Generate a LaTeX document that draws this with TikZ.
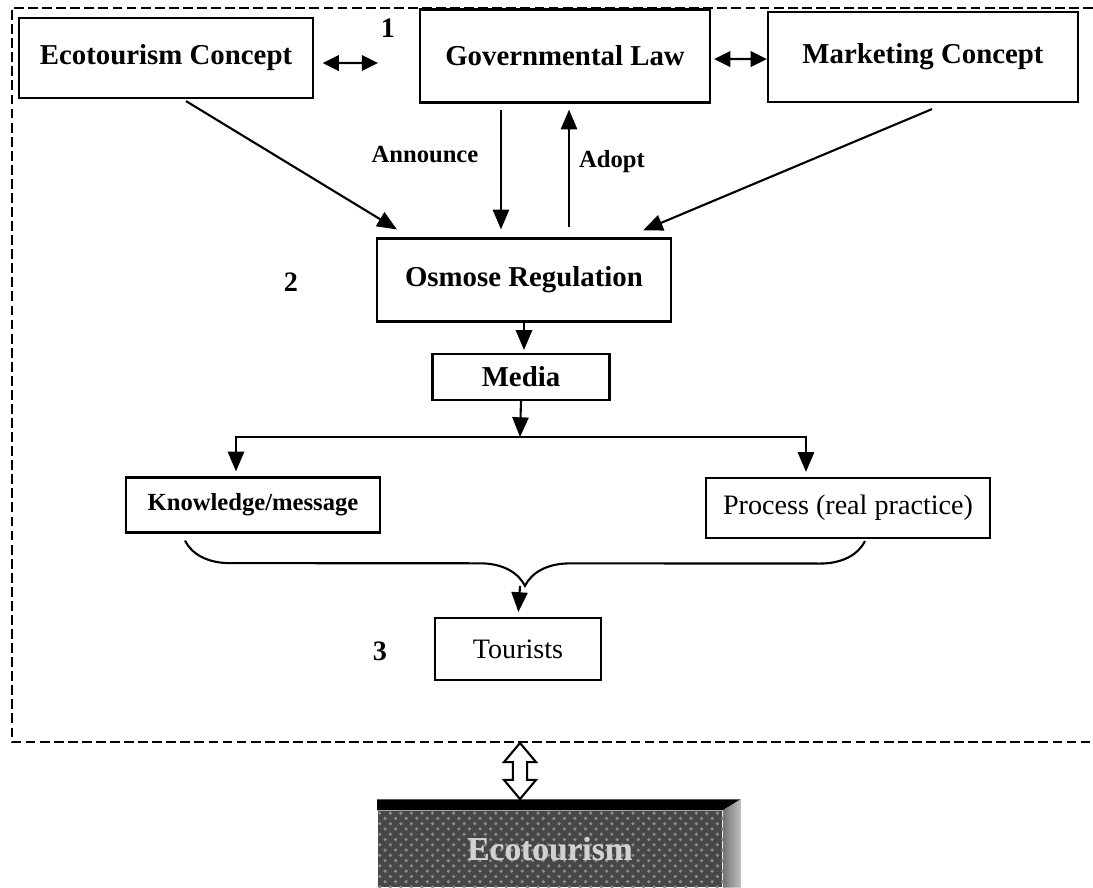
\documentclass[tikz,border=0pt]{standalone}
\usepackage{fontspec}
\setmainfont{Liberation Serif}
\usetikzlibrary{arrows.meta,shapes.arrows,decorations.pathreplacing,patterns}

\tikzset{
  arr/.style={-{Triangle[width=4.6pt,length=5.6pt]}, line width=0.6pt},
  dbl/.style={{Triangle[width=4.4pt,length=4.6pt]}-{Triangle[width=4.4pt,length=4.6pt]}, line width=0.6pt},
  lbl/.style={font=\bfseries\fontsize{7}{8}\selectfont},
  num/.style={font=\bfseries\fontsize{8}{9}\selectfont}
}

\begin{document}
\begin{tikzpicture}[x=0.01cm,y=-0.01cm]
  \useasboundingbox (0,0) rectangle (1093,887);

  % dashed frame, cut off at the right
  \draw[line width=0.5pt, dash pattern=on 2.8pt off 1.2pt]
    (1093,8) -- (12,8) -- (12,742) -- (1093,742);

  \begin{scope}[every node/.style={draw,line width=0.6pt,inner sep=0pt,
      font=\bfseries\fontsize{8.2}{10}\selectfont}]
    \node[minimum width=2.93cm,minimum height=0.80cm] (ec)    at (166,58)  {Ecotourism Concept};
    \node[minimum width=2.90cm,minimum height=0.93cm] (gov)   at (565,56)  {Governmental Law};
    \node[minimum width=3.10cm,minimum height=0.90cm] (mkt)   at (923,57)  {Marketing Concept};
    \node[minimum width=2.93cm,minimum height=0.83cm] (osm)   at (524,280) {Osmose Regulation};
    \node[minimum width=1.77cm,minimum height=0.46cm] (media) at (521,377) {Media};
  \end{scope}

  \begin{scope}[every node/.style={draw,line width=0.6pt,inner sep=0pt,
      font=\fontsize{8}{10}\selectfont}]
    \node[minimum width=2.54cm,minimum height=0.55cm,font=\bfseries\fontsize{7}{9}\selectfont]
      (know) at (253,505) {Knowledge/message};
    \node[minimum width=2.84cm,minimum height=0.60cm] (proc) at (848,508) {Process (real practice)};
    \node[minimum width=1.66cm,minimum height=0.62cm] (tour) at (518,649) {Tourists};
  \end{scope}

  % numbers and labels
  \node[num] (n1) at (388,28)  {1};
  \node[num] (n2) at (291,282) {2};
  \node[num] (n3) at (380,651) {3};
  \node[lbl] (ann) at (425,155) {Announce};
  \node[lbl] (adp) at (612,162) {Adopt};

  \coordinate (g1)    at (378,63);
  \coordinate (split) at (520,437);
  \coordinate (btip)  at (520,586);

  % top row
  \draw[dbl] ([xshift=0.09cm,yshift=-0.05cm]ec.east) -- (g1);
  \draw[dbl, shorten <=0.03cm] ([yshift=-0.03cm]gov.east) -- ([yshift=-0.02cm]mkt.west);

  % into and out of the regulation
  \draw[arr] ([xshift=0.2cm,yshift=-0.02cm]ec.south) -- ([xshift=-1.27cm,yshift=0.08cm]osm.north);
  \draw[arr] ([xshift=0.09cm,yshift=-0.06cm]mkt.south) -- ([xshift=1.19cm,yshift=0.07cm]osm.north);
  \draw[arr, shorten <=0.06cm, shorten >=0.08cm]
    ([xshift=-0.64cm]gov.south) -- ([xshift=-0.64cm]gov.south |- osm.north);
  \draw[arr, shorten <=0.1cm, shorten >=0.06cm]
    ([xshift=0.45cm]osm.north) -- ([xshift=0.45cm]osm.north |- gov.south);

  \draw[arr, shorten >=0.03cm] (osm.south) -- (osm.south |- media.north);
  \draw[arr] (media.south) -- (split);
  \draw[arr, shorten >=0.05cm] (split) -| ([xshift=-0.17cm]know.north);
  \draw[arr, shorten >=0.05cm] (split) -| ([xshift=-0.42cm]proc.north);

  % brace to the tourists
  \draw[line width=0.6pt, decorate, decoration={brace, mirror, amplitude=0.45cm}]
    ([xshift=-0.68cm,yshift=-0.07cm]know.south) -- ([xshift=0.17cm,yshift=-0.02cm]proc.south);
  \draw[arr, shorten >=0.05cm] (btip) -- (tour.north);

  % ecotourism block
  \node[minimum width=3.44cm, minimum height=0.76cm, inner sep=0pt,
        fill=black!72, text=black!18,
        font=\bfseries\fontsize{9.5}{11}\selectfont] (eco) at (550,849) {Ecotourism};
  \fill[pattern=crosshatch dots, pattern color=black!45] (eco.north west) rectangle (eco.south east);
  \node[text=black!18, font=\bfseries\fontsize{9.5}{11}\selectfont] at (eco.center) {Ecotourism};
  \fill[black] (eco.north west) -- ++(0,-11) -- ([xshift=0.18cm,yshift=0.11cm]eco.north east)
    -- (eco.north east) -- cycle;
  \shade[left color=black!55, right color=black!25]
    (eco.north east) -- ([xshift=0.18cm,yshift=0.11cm]eco.north east)
    -- ([xshift=0.18cm]eco.south east) -- (eco.south east) -- cycle;

  \node[double arrow, draw, fill=white, line width=0.6pt, rotate=90,
        minimum height=0.56cm, inner sep=0.06cm, double arrow head extend=0.09cm,
        double arrow tip angle=80] (link) at (520,771) {};
\end{tikzpicture}
\end{document}
